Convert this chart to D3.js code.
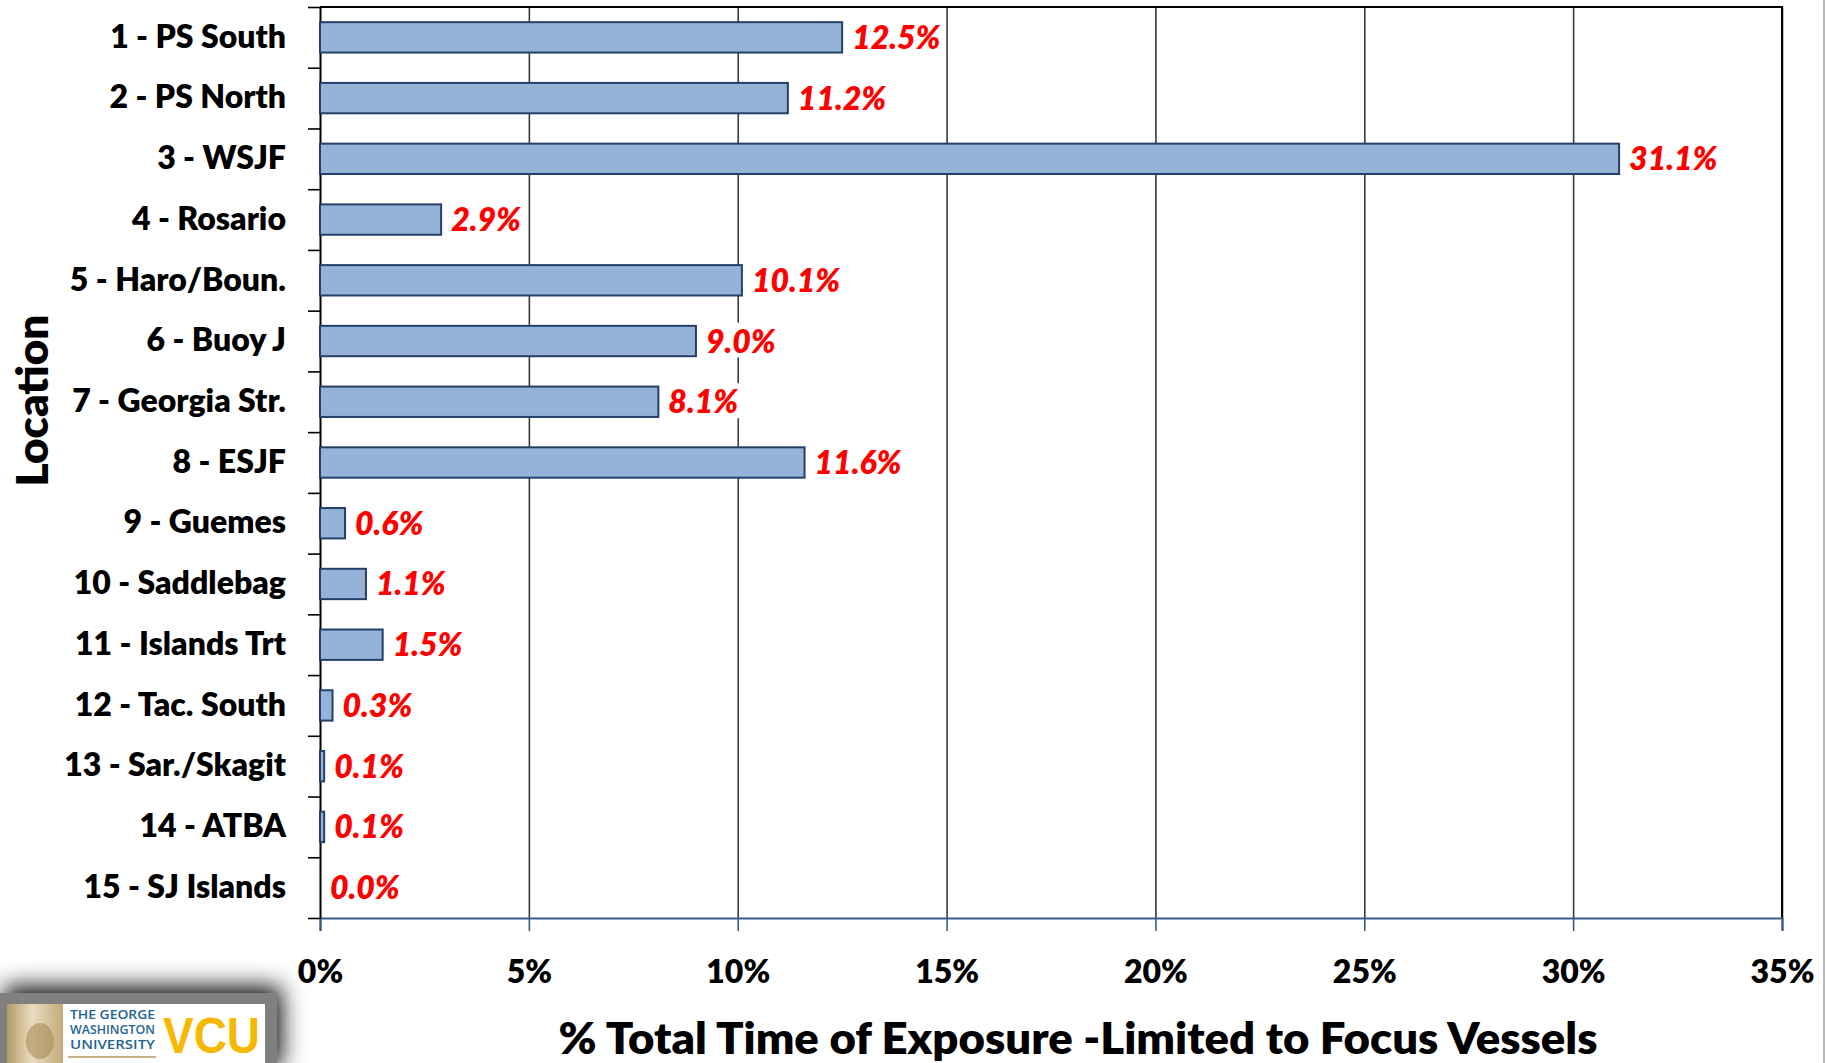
<!DOCTYPE html>
<meta charset="utf-8">
<script src="https://d3js.org/d3.v7.min.js"></script>
<style>
body { margin: 0; background: white; }
svg text { font-family: Lato, "Open Sans", sans-serif; font-weight: 800; }
.bar { fill: #95b3d7; stroke: #24406a; stroke-width: 2px; }
.val { fill: #ff0000; font-style: italic; font-size: 32px; font-weight: 800; }
.grid line { stroke: #3a3a3a; stroke-width: 1.6px; }
</style>
<div id="chart"></div>
<script>
// data
var locations = ["1 - PS South","2 - PS North","3 - WSJF","4 - Rosario","5 - Haro/Boun.","6 - Buoy J","7 - Georgia Str.",
                 "8 - ESJF","9 - Guemes","10 - Saddlebag","11 - Islands Trt","12 - Tac. South","13 - Sar./Skagit","14 - ATBA","15 - SJ Islands"];
var exposure = [12.5, 11.2, 31.1, 2.9, 10.1, 9.0, 8.1, 11.6, 0.6, 1.1, 1.5, 0.3, 0.1, 0.1, 0.0];
var xTicks = [0, 5, 10, 15, 20, 25, 30, 35];
var xTitle = "% Total Time of Exposure -Limited to Focus Vessels";
var yTitle = "Location";

var W = 1826, H = 1063;
var margin = {top:7,right:44,bottom:145,left:320},
    width = W - margin.left - margin.right,
    height = H - margin.top - margin.bottom;

var root = d3.select("#chart").append("svg").attr("width",W).attr("height",H);

// logo shadow filter
var defs = root.append("defs");
var f = defs.append("filter").attr("id","shadow").attr("x","-30%").attr("y","-60%").attr("width","160%").attr("height","220%");
f.append("feGaussianBlur").attr("in","SourceAlpha").attr("stdDeviation",12);
f.append("feOffset").attr("dx",4).attr("dy",-6).attr("result","b");
var fm = f.append("feMerge"); fm.append("feMergeNode").attr("in","b"); fm.append("feMergeNode").attr("in","SourceGraphic");
var sepia = defs.append("linearGradient").attr("id","sepia").attr("x1",0).attr("x2",1);
sepia.append("stop").attr("offset","0%").attr("stop-color","#b59a68");
sepia.append("stop").attr("offset","45%").attr("stop-color","#e9dcc0");
sepia.append("stop").attr("offset","100%").attr("stop-color","#c4a978");

// slide edge on the right
root.append("line").attr("x1",W-2).attr("x2",W-2).attr("y1",0).attr("y2",H).attr("stroke","#b8b8b8").attr("stroke-width",2);

var svg = root.append("g").attr("transform","translate(" + margin.left + "," + margin.top + ")");

var x = d3.scaleLinear().domain([0,35]).range([0,width]);
var y = d3.scaleBand().domain(locations).range([0,height]).paddingInner(0.5).paddingOuter(0.25);

// vertical gridlines
svg.append("g").attr("class","grid")
  .call(d3.axisTop(x).tickValues(xTicks.slice(1)).tickSize(-height).tickFormat(""))
  .call(function(g) { g.select(".domain").remove(); });

// plot border top and right
svg.append("path").attr("d","M0,0H" + width + "V" + height).attr("fill","none").attr("stroke","#000").attr("stroke-width",2);

// x axis
var xAxis = svg.append("g").attr("transform","translate(0," + height + ")")
  .call(d3.axisBottom(x).tickValues(xTicks).tickSize(13).tickPadding(29).tickFormat(function(d) { return d + "%"; }));
xAxis.select(".domain").attr("stroke","#3b5b85").attr("stroke-width",2.2);
xAxis.selectAll(".tick line").attr("stroke","#3b5b85").attr("stroke-width",1.6);
xAxis.selectAll("text").attr("fill","#000").style("font-size","32px");

// y axis: ticks at band boundaries
var yEdge = d3.scaleLinear().domain([0,locations.length]).range([0,height]);
var yAxis = svg.append("g")
  .call(d3.axisLeft(yEdge).ticks(locations.length).tickSize(12).tickSizeOuter(0).tickFormat(""));
yAxis.select(".domain").attr("stroke","#000").attr("stroke-width",2);
yAxis.selectAll(".tick line").attr("stroke","#000").attr("stroke-width",1.6);

// category labels
var yLab = svg.append("g")
  .call(d3.axisLeft(y).tickSize(0).tickPadding(34));
yLab.select(".domain").remove();
yLab.selectAll("text").attr("fill","#000").style("font-size","32px");

// bars
svg.append("g").selectAll("rect").data(exposure).enter().append("rect").attr("class","bar")
    .attr("x",x(0))
    .attr("y",function(d,i) { return y(locations[i]); })
    .attr("width",function(d) { return x(d) - x(0); })
    .attr("height",y.bandwidth());

// value labels with white backing
var vals = svg.append("g").selectAll("g").data(exposure).enter().append("g");
vals.append("text").attr("class","val")
    .attr("x",function(d) { return x(d) + 10; })
    .attr("y",function(d,i) { return y(locations[i]) + y.bandwidth()/2; })
    .attr("dy","0.36em")
    .text(function(d) { return d.toFixed(1) + "%"; });
vals.each(function() {
  var g = d3.select(this), b = g.select("text").node().getBBox();
  g.insert("rect","text").attr("x",b.x - 2).attr("y",b.y + 2).attr("width",b.width + 4).attr("height",b.height - 4).attr("fill","#fff");
});

// axis titles
svg.append("text").attr("x",width/2 + 27).attr("y",height + 136)
    .attr("text-anchor","middle").style("font-size","43px")
    .attr("textLength",1039).attr("lengthAdjust","spacingAndGlyphs").text(xTitle);
svg.append("text").attr("transform","translate(" + (-288) + "," + (height/2 - 62) + ") rotate(-90)")
    .attr("text-anchor","middle").attr("dy","0.36em").style("font-size","44px").text(yTitle);

// university logo, bottom left
var logo = root.append("g").attr("transform","translate(0,993)");
logo.append("rect").attr("x",0).attr("y",0).attr("width",277).attr("height",80).attr("fill","#808080").attr("filter","url(#shadow)");
logo.append("rect").attr("x",7).attr("y",11).attr("width",258).attr("height",70).attr("fill","#fff");
logo.append("rect").attr("x",7).attr("y",11).attr("width",56).attr("height",70).attr("fill","url(#sepia)");
logo.append("ellipse").attr("cx",40).attr("cy",48).attr("rx",14).attr("ry",18).attr("fill","#a88c5c").attr("opacity",0.6);
logo.append("line").attr("x1",68).attr("x2",156).attr("y1",64).attr("y2",64).attr("stroke","#c9b48a").attr("stroke-width",2);
["THE GEORGE","WASHINGTON","UNIVERSITY"].forEach(function(t,i) {
  logo.append("text").attr("x",70).attr("y",26 + i*15).attr("textLength",85).attr("lengthAdjust","spacingAndGlyphs")
    .style("font-family","'Open Sans', sans-serif").style("font-weight","600").style("font-size","12px").attr("fill","#1f6493").text(t);
});
logo.append("text").attr("x",163).attr("y",60).attr("textLength",97).attr("lengthAdjust","spacingAndGlyphs")
    .style("font-family","'Liberation Sans', Arial, sans-serif").style("font-weight","bold").style("font-size","50px")
    .attr("fill","#f6b800").text("VCU");
</script>
